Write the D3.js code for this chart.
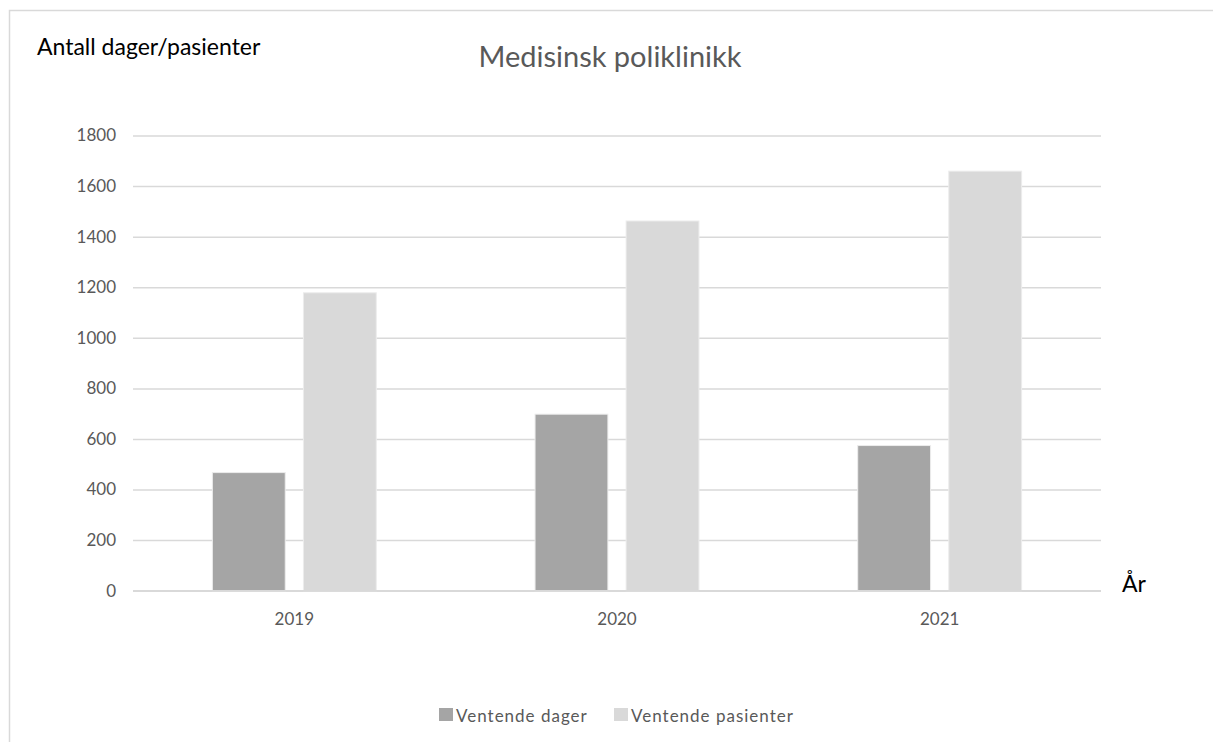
<!DOCTYPE html>
<html>
<head>
<meta charset="utf-8">
<script src="https://cdn.jsdelivr.net/npm/d3@7"></script>
<style>
  html, body { margin: 0; padding: 0; background: #fff; }
  svg { display: block; font-family: Lato, "Open Sans", sans-serif; }
</style>
</head>
<body>
<svg id="chart" width="1213" height="742"></svg>
<script>
// Years on the category axis
const years = ["2019", "2020", "2021"];
// Series names as shown in the legend
const seriesNames = ["Ventende dager", "Ventende pasienter"];
// Values per year
const ventendeDager = [467, 698, 574];
const ventendePasienter = [1178, 1462, 1659];
// Y axis ticks
const yTicks = [0, 200, 400, 600, 800, 1000, 1200, 1400, 1600, 1800];

const seriesColors = ["#a5a5a5", "#d9d9d9"];
const rows = years.map((y, i) => ({ year: y, values: [ventendeDager[i], ventendePasienter[i]] }));

const svg = d3.select("#chart");
const W = 1213, H = 742;

// Chart frame (top and left edges)
svg.append("path")
  .attr("d", `M9.5,${H} V10.5 H${W}`)
  .attr("fill", "none")
  .attr("stroke", "#d9d9d9")
  .attr("stroke-width", 1.5);

const plot = { left: 133, right: 1101, top: 135.5, bottom: 590.7 };

const x0 = d3.scaleBand().domain(years).range([plot.left, plot.right])
  .paddingInner(0.492).paddingOuter(0.246);
const x1 = d3.scaleBand().domain(seriesNames).range([0, x0.bandwidth()]).paddingInner(0.2);
const y = d3.scaleLinear().domain([0, 1800]).range([plot.bottom, plot.top]);

// Horizontal gridlines
const yAxis = d3.axisLeft(y).tickValues(yTicks).tickSize(-(plot.right - plot.left)).tickPadding(17)
  .tickFormat(d3.format("d"));
const gy = svg.append("g").attr("transform", `translate(${plot.left},0)`).call(yAxis);
gy.select(".domain").remove();
gy.selectAll(".tick line").attr("stroke", "#d9d9d9").attr("stroke-width", 1.5);
gy.selectAll(".tick text").attr("fill", "#595959").attr("font-size", 17)
  .attr("font-family", "Lato, sans-serif");

// Bars
const groups = svg.append("g").selectAll("g").data(rows).join("g")
  .attr("transform", d => `translate(${x0(d.year)},0)`);
groups.selectAll("rect")
  .data(d => d.values.map((v, i) => ({ name: seriesNames[i], value: v, i })))
  .join("rect")
  .attr("x", d => x1(d.name))
  .attr("width", x1.bandwidth())
  .attr("y", d => y(d.value))
  .attr("height", d => y(0) - y(d.value))
  .attr("fill", d => seriesColors[d.i])
  .attr("stroke", "#ececec")
  .attr("stroke-width", 1);

// Baseline redrawn over bars
svg.append("line")
  .attr("x1", plot.left).attr("x2", plot.right)
  .attr("y1", y(0)).attr("y2", y(0))
  .attr("stroke", "#d9d9d9").attr("stroke-width", 1.5);

// Category labels
const xAxis = d3.axisBottom(x0).tickSize(0).tickPadding(22);
const gx = svg.append("g").attr("transform", `translate(0,${plot.bottom})`).call(xAxis);
gx.select(".domain").remove();
gx.selectAll(".tick text").attr("fill", "#595959").attr("font-size", 17)
  .attr("font-family", "Lato, sans-serif");

// Title
svg.append("text")
  .attr("x", 610).attr("y", 67)
  .attr("text-anchor", "middle")
  .attr("fill", "#595959")
  .attr("font-size", 29)
  .text("Medisinsk poliklinikk");

// Axis captions
svg.append("text")
  .attr("x", 37).attr("y", 55)
  .attr("fill", "#000")
  .attr("font-size", 23)
  .text("Antall dager/pasienter");

svg.append("text")
  .attr("x", 1122).attr("y", 592)
  .attr("fill", "#000")
  .attr("font-size", 23)
  .text("År");

// Legend
const legendX = [439, 614];
const lg = svg.append("g").selectAll("g").data(seriesNames).join("g")
  .attr("transform", (d, i) => `translate(${legendX[i]},708)`);
lg.append("rect").attr("width", 14).attr("height", 13)
  .attr("fill", (d, i) => seriesColors[i]);
lg.append("text")
  .attr("x", 17).attr("y", 13.5)
  .attr("fill", "#595959")
  .attr("font-size", 17)
  .attr("letter-spacing", 1)
  .text(d => d);
</script>
</body>
</html>
